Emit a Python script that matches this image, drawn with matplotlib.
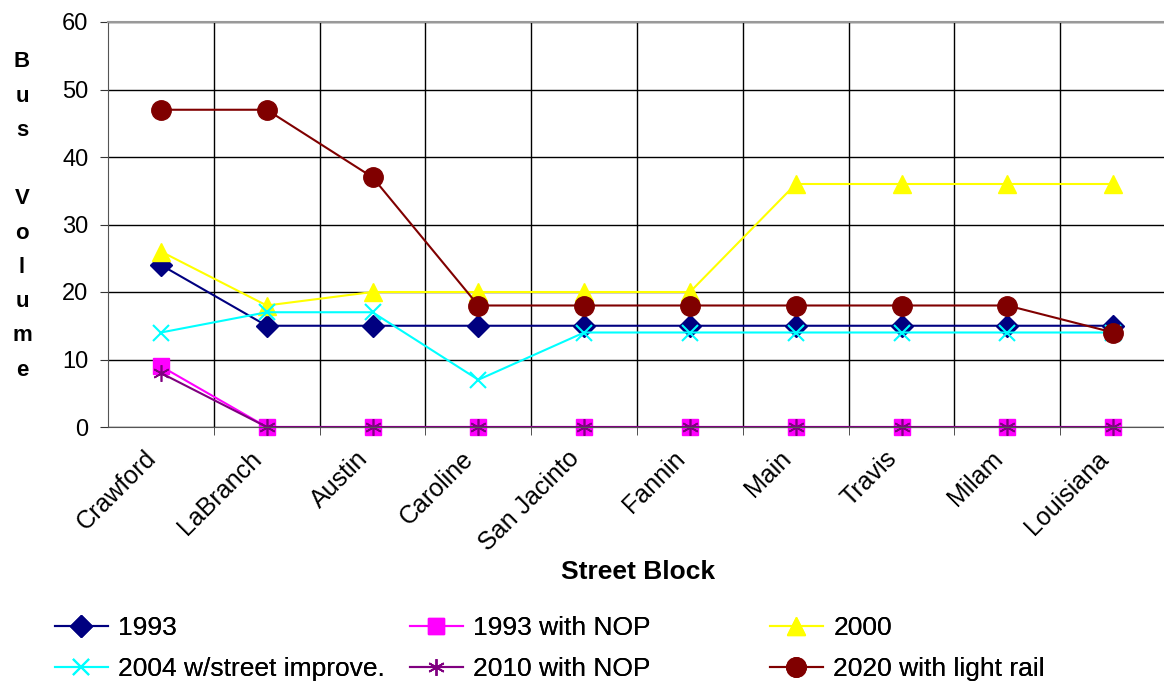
import numpy as np
import matplotlib
matplotlib.use('Agg')
import matplotlib.pyplot as plt
import matplotlib.transforms as mtransforms
from matplotlib.ticker import MultipleLocator, FixedLocator

plt.rcParams['font.family'] = ['Liberation Sans', 'DejaVu Sans']

# ==========================================
# 数据
# ==========================================
blocks = ['Crawford', 'LaBranch', 'Austin', 'Caroline', 'San Jacinto',
          'Fannin', 'Main', 'Travis', 'Milam', 'Louisiana']
v1993 = [24, 15, 15, 15, 15, 15, 15, 15, 15, 15]
v1993_nop = [9, 0, 0, 0, 0, 0, 0, 0, 0, 0]
v2000 = [26, 18, 20, 20, 20, 20, 36, 36, 36, 36]
v2004 = [14, 17, 17, 7, 14, 14, 14, 14, 14, 14]
v2010_nop = [8, 0, 0, 0, 0, 0, 0, 0, 0, 0]
v2020 = [47, 47, 37, 18, 18, 18, 18, 18, 18, 14]

x = np.arange(len(blocks))

fig = plt.figure(figsize=(11.64, 6.84), dpi=100)
ax = fig.add_axes([108 / 1164, 1 - 427 / 684, 1 - 108 / 1164, (427 - 22) / 684])

# 系列
kw = dict(lw=1.5, clip_on=False)
h1, = ax.plot(x, v1993, color='#000080', marker='D', ms=11,
              label='1993', **kw)
h2, = ax.plot(x, v1993_nop, color='#FF00FF', marker='s', ms=11,
              label='1993 with NOP', **kw)
h3, = ax.plot(x, v2000, color='#FFFF00', marker='^', ms=13,
              label='2000', **kw)
h4, = ax.plot(x, v2004, color='#00FFFF', marker='x', ms=11, mew=1.5,
              label='2004 w/street improve.', **kw)
h5, = ax.plot(x, v2010_nop, color='#800080', marker=(6, 2, 0), ms=12,
              mew=1.2, label='2010 with NOP', **kw)
h6, = ax.plot(x, v2020, color='#800000', marker='o', ms=14,
              label='2020 with light rail', **kw)

# 坐标轴
ax.set_xlim(-0.5, 9.48)
ax.set_ylim(0, 60)
ax.yaxis.set_major_locator(MultipleLocator(10))
ax.set_xticks(x)
ax.set_xticklabels(blocks, rotation=45, ha='right', va='top',
                   rotation_mode='anchor', fontsize=18)
ax.tick_params(axis='x', which='major', length=0, pad=14)
shift = mtransforms.ScaledTranslation(-17 / 100, 0, fig.dpi_scale_trans)
for lbl in ax.get_xticklabels():
    lbl.set_transform(lbl.get_transform() + shift)
ax.xaxis.set_minor_locator(FixedLocator(np.arange(0.5, 9.5, 1.0)))
ax.tick_params(axis='x', which='minor', length=6, direction='out', color='#333333')
ax.tick_params(axis='y', length=6, direction='out', labelsize=17, pad=8,
               color='#333333')

ax.grid(True, axis='y', which='major', color='black', lw=1)
ax.grid(True, axis='x', which='minor', color='black', lw=1)
ax.set_axisbelow(True)

ax.spines['right'].set_visible(False)
ax.spines['top'].set_color('#999999')
ax.spines['top'].set_linewidth(1.5)
ax.spines['left'].set_color('#555555')
ax.spines['bottom'].set_color('#555555')

# 标签
fig.text(22 / 1164, 1 - 216 / 684, 'B\nu\ns\n\nV\no\nl\nu\nm\ne',
         ha='center', va='center', fontsize=16, fontweight='bold',
         linespacing=1.83)
fig.text(638 / 1164, 1 - 572 / 684, 'Street Block', ha='center', va='center',
         fontsize=19, fontweight='bold')

# 图例: 三列，逐列放置
columns = [([h1, h4], 55), ([h2, h5], 410), ([h3, h6], 770)]
for hs, x0 in columns:
    leg = fig.legend(hs, [h.get_label() for h in hs], loc='center left',
                     bbox_to_anchor=(x0 / 1164, 1 - 648.5 / 684),
                     frameon=False, fontsize=19, borderpad=0, borderaxespad=0,
                     handlelength=2.0, handletextpad=0.4, labelspacing=0.65)
    fig.add_artist(leg)

plt.savefig('out.png', dpi=100)
plt.close()
